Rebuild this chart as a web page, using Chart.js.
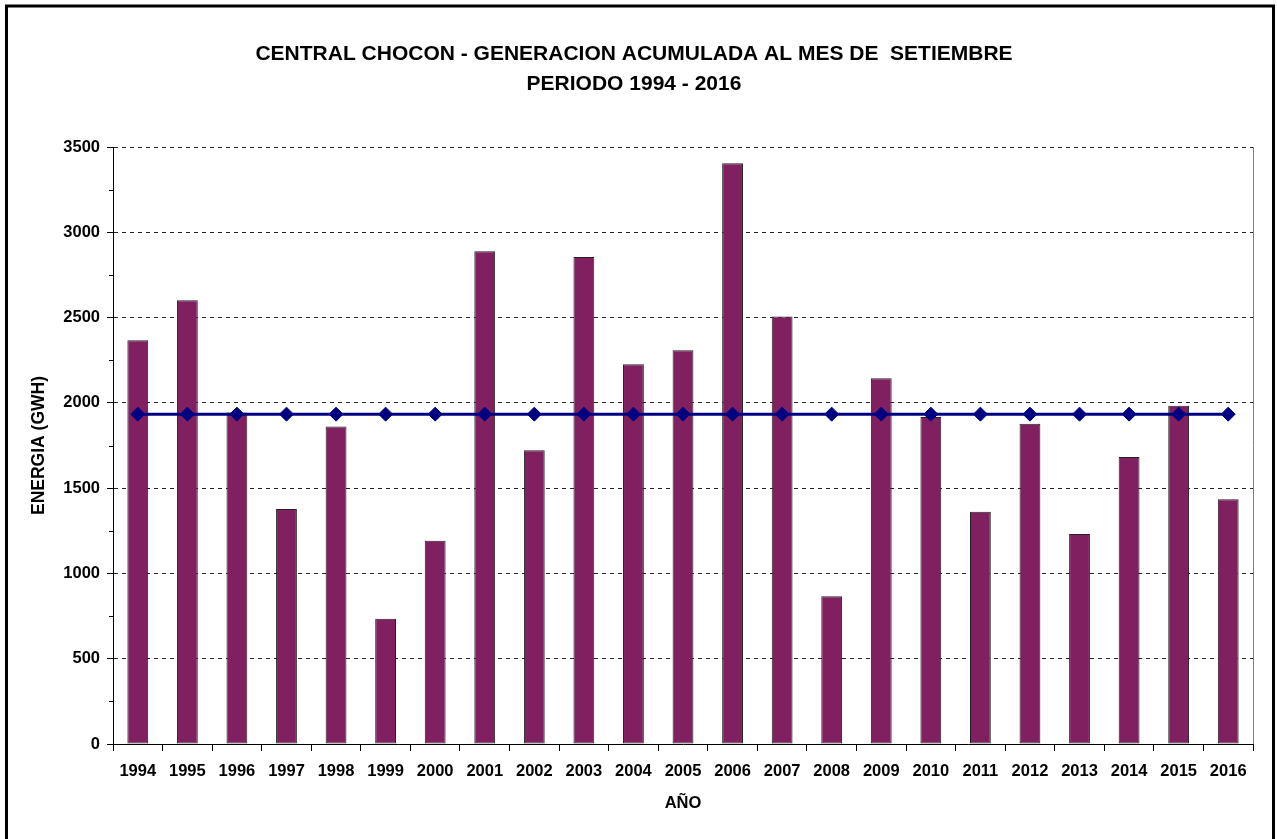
<!DOCTYPE html>
<html>
<head>
<meta charset="utf-8">
<script src="https://cdn.jsdelivr.net/npm/chart.js@4.4.1/dist/chart.umd.min.js"></script>
<style>
html,body{margin:0;padding:0;background:#fff;}
#wrap{width:1277px;height:839px;position:relative;}
</style>
</head>
<body>
<div id="wrap"><canvas id="c" width="1277" height="839"></canvas></div>
<script>
const categories = ['1994','1995','1996','1997','1998','1999','2000','2001','2002','2003','2004','2005','2006','2007','2008','2009','2010','2011','2012','2013','2014','2015','2016'];
const energyValues = [2368,2602,1944,1378,1862,734,1192,2889,1722,2856,2227,2309,3405,2507,867,2145,1917,1362,1878,1232,1683,1983,1435];
const averageValues = [1934,1934,1934,1934,1934,1934,1934,1934,1934,1934,1934,1934,1934,1934,1934,1934,1934,1934,1934,1934,1934,1934,1934];
const titleLines = ['CENTRAL CHOCON - GENERACION ACUMULADA AL MES DE  SETIEMBRE', 'PERIODO 1994 - 2016'];
const yAxisTitle = 'ENERGIA (GWH)';
const xAxisTitle = 'AÑO';
const yMin = 0;
const yMax = 3500;
const yMajorStep = 500;
const yMinorStep = 250;

const FONT = '"Liberation Sans", Arial, Helvetica, sans-serif';

const decorPlugin = {
  id: 'decor',
  beforeDraw(chart) {
    const ctx = chart.ctx;
    ctx.save();
    ctx.fillStyle = '#fff';
    ctx.fillRect(0, 0, chart.width, chart.height);
    ctx.restore();
  },
  afterDraw(chart) {
    const ctx = chart.ctx;
    const a = chart.chartArea;
    const y = chart.scales.y;
    ctx.save();
    ctx.strokeStyle = '#808080';
    ctx.lineWidth = 1;
    ctx.beginPath();
    ctx.moveTo(Math.round(a.right) + 0.5, a.top);
    ctx.lineTo(Math.round(a.right) + 0.5, a.bottom);
    ctx.stroke();
    ctx.strokeStyle = '#000';
    ctx.beginPath();
    for (let v = yMin + yMinorStep; v < yMax; v += yMajorStep) {
      const py = Math.round(y.getPixelForValue(v)) + 0.5;
      ctx.moveTo(a.left - 4, py);
      ctx.lineTo(a.left, py);
    }
    ctx.stroke();
    ctx.strokeStyle = '#000';
    ctx.lineWidth = 3;
    ctx.strokeRect(6.5, 6, 1267, 900);
    ctx.restore();
  }
};

new Chart(document.getElementById('c'), {
  data: {
    labels: categories,
    datasets: [
      {
        type: 'line',
        data: averageValues,
        borderColor: '#000080',
        backgroundColor: '#000080',
        borderWidth: 3,
        pointStyle: 'rectRot',
        pointRadius: 7,
        pointBackgroundColor: '#000080',
        pointBorderColor: '#000080',
        pointBorderWidth: 1,
        tension: 0,
        order: 0
      },
      {
        type: 'bar',
        data: energyValues,
        backgroundColor: '#802060',
        borderColor: '#222222',
        borderWidth: 1,
        borderSkipped: false,
        barPercentage: 0.42,
        categoryPercentage: 1,
        order: 1
      }
    ]
  },
  options: {
    responsive: false,
    animation: false,
    devicePixelRatio: 1,
    layout: { padding: { left: 15, right: 24, top: 0, bottom: 0 } },
    plugins: {
      legend: { display: false },
      tooltip: { enabled: false },
      title: {
        display: true,
        text: titleLines,
        color: '#000',
        font: { family: FONT, size: 21, weight: 'bold', lineHeight: 1.43 },
        padding: { top: 39, bottom: 48 }
      }
    },
    scales: {
      x: {
        type: 'category',
        offset: true,
        grid: {
          offset: true,
          drawOnChartArea: false,
          drawTicks: true,
          tickLength: 7,
          color: '#000',
          tickColor: '#000'
        },
        border: { display: true, color: '#000', width: 1 },
        ticks: {
          color: '#000',
          font: { family: FONT, size: 16.5, weight: 'bold' },
          padding: 11,
          maxRotation: 0,
          autoSkip: false
        },
        title: {
          display: true,
          text: xAxisTitle,
          color: '#000',
          font: { family: FONT, size: 16.5, weight: 'bold' },
          padding: { top: 0, bottom: 26 }
        },
        afterFit(scale) { scale.height = 95; }
      },
      y: {
        min: yMin,
        max: yMax,
        ticks: {
          stepSize: yMajorStep,
          color: '#000',
          font: { family: FONT, size: 16.5, weight: 'bold' },
          padding: 7,
          callback: (v) => String(v)
        },
        grid: {
          color: (ctx) => (ctx.tick && ctx.tick.value === yMin) ? 'rgba(0,0,0,0)' : '#222',
          tickColor: '#000',
          tickLength: 6,
          lineWidth: 1
        },
        border: { display: true, color: '#000', width: 1, dash: [4, 4] },
        title: {
          display: true,
          text: yAxisTitle,
          color: '#000',
          font: { family: FONT, size: 17.5, weight: 'bold' },
          padding: { top: 14, bottom: 0 }
        },
        afterFit(scale) { scale.width = 98; }
      }
    }
  },
  plugins: [decorPlugin]
});
</script>
</body>
</html>
